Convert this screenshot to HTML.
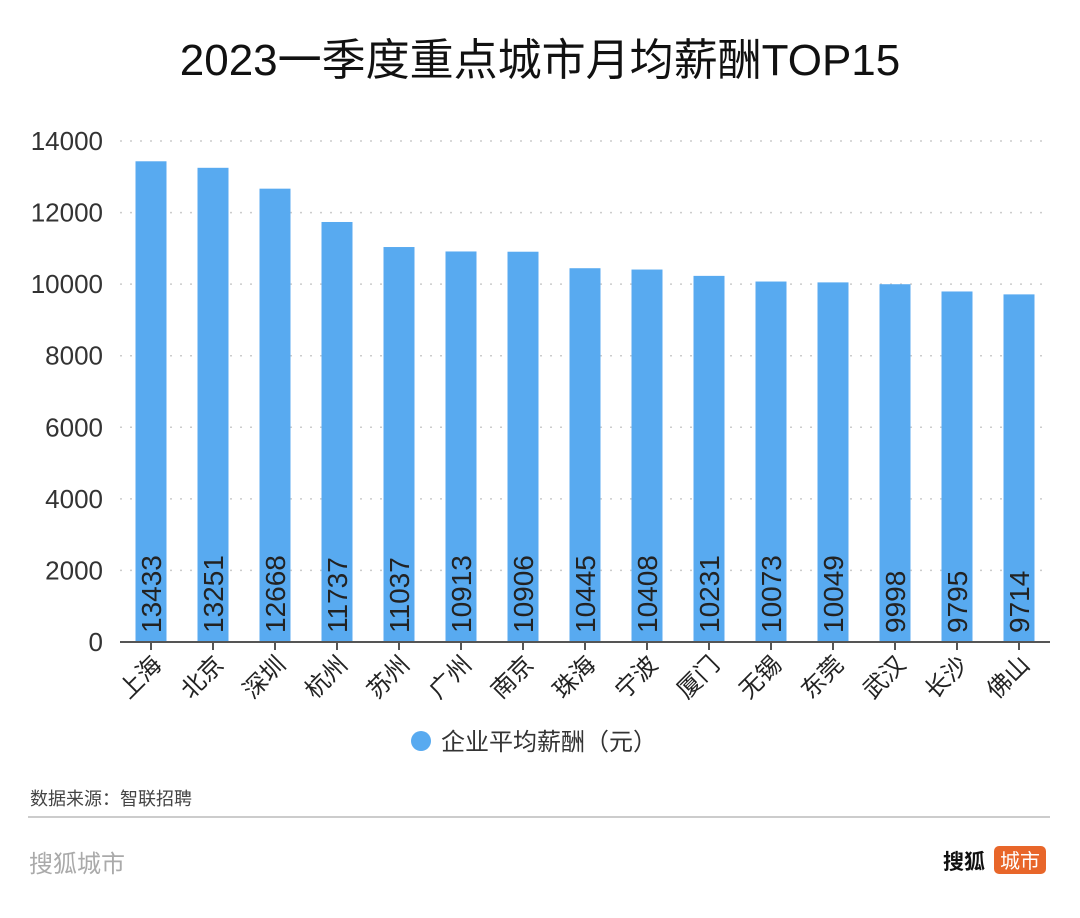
<!DOCTYPE html>
<html><head><meta charset="utf-8"><style>
body{margin:0;background:#fff;width:1080px;height:918px;overflow:hidden;font-family:"Liberation Sans","Noto Sans CJK SC",sans-serif}
</style></head><body>
<svg width="1080" height="918" style="position:absolute;left:0;top:0">
<text x="540" y="75" text-anchor="middle" font-size="44" fill="#111">2023一季度重点城市月均薪酬TOP15</text>
<g id="grid"></g><g id="bars"></g><g id="axis"></g>
<line x1="120" y1="642" x2="1050" y2="642" stroke="#555" stroke-width="2"/>
<circle cx="421" cy="741" r="10" fill="#58aaf0"/>
<text x="441" y="750" font-size="24" fill="#333">企业平均薪酬（元）</text>
<text x="30" y="805" font-size="18" fill="#444">数据来源：智联招聘</text>
<line x1="28" y1="817" x2="1050" y2="817" stroke="#ccc" stroke-width="2"/>
<text x="29" y="872" font-size="24" fill="#aaa">搜狐城市</text>
<text x="943" y="869" font-size="21" fill="#111" font-weight="bold">搜狐</text>
<rect x="994" y="846" width="52" height="28" rx="5" fill="#e8662a"/>
<text x="1020" y="868" font-size="20" fill="#fff" text-anchor="middle">城市</text>
</svg>
<script>
const categories=["上海","北京","深圳","杭州","苏州","广州","南京","珠海","宁波","厦门","无锡","东莞","武汉","长沙","佛山"];
const values=[13433,13251,12668,11737,11037,10913,10906,10445,10408,10231,10073,10049,9998,9795,9714];
const yTicks=[0,2000,4000,6000,8000,10000,12000,14000];
const NS="http://www.w3.org/2000/svg";
const x0=120,x1=1050,y0=642,yTop=141,yMax=14000;
const band=(x1-x0)/categories.length;
const y=v=>y0-(v/yMax)*(y0-yTop);
const xc=i=>x0+band*(i+0.5);
function mk(t,a,p){const e=document.createElementNS(NS,t);for(const k in a)e.setAttribute(k,a[k]);p.appendChild(e);return e;}
const grid=document.getElementById('grid'),bars=document.getElementById('bars'),axis=document.getElementById('axis');
yTicks.forEach(t=>{
  if(t>0){const l=mk('line',{x1:x0,x2:x1,y1:y(t),y2:y(t),stroke:'#ccc','stroke-width':1.5,'stroke-dasharray':'2 8'},grid);
  
  }
  const tx=mk('text',{x:103,y:y(t)+9,'text-anchor':'end','font-size':26,fill:'#333'},axis);
  tx.textContent=t;
  
  
});
categories.forEach((c,i)=>{
  const cx=xc(i);
  const r=mk('rect',{x:cx-15.5,y:y(values[i]),width:31,height:y0-y(values[i]),fill:'#58aaf0'},bars);
  
  
  const v=mk('text',{x:0,y:0,'font-size':28,fill:'#222',transform:`translate(${cx+10},${y0-9}) rotate(-90)`},bars);
  v.textContent=values[i];
  
  
  const tk=mk('line',{x1:cx,x2:cx,y1:y0,y2:y0+8,stroke:'#555','stroke-width':2},axis);
  
  
  const lb=mk('text',{x:0,y:0,'font-size':24,fill:'#222','text-anchor':'end',transform:`translate(${cx+12},${y0+24}) rotate(-45)`},axis);
  lb.textContent=c;
  
  
});
</script>
</body></html>
